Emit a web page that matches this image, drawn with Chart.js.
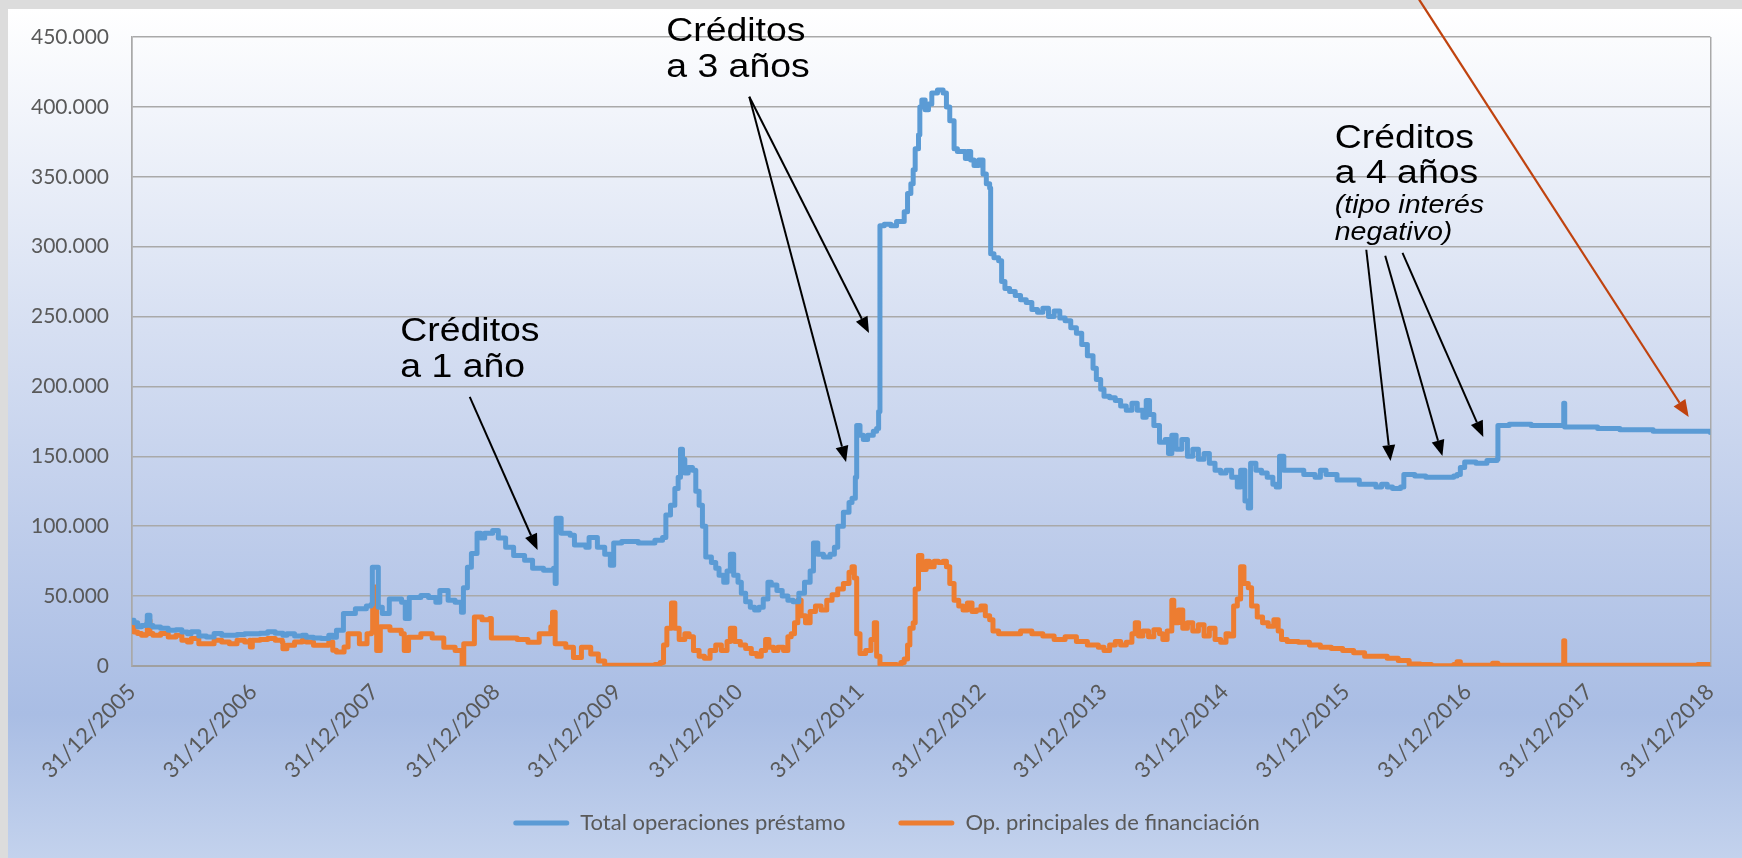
<!DOCTYPE html>
<html>
<head>
<meta charset="utf-8">
<script src="https://cdn.jsdelivr.net/npm/chart.js@4.4.1/dist/chart.umd.min.js"></script>
<style>
html,body{margin:0;padding:0;background:#dcdcdc;overflow:hidden}
#wrap{position:relative;width:1742px;height:858px}
</style>
</head>
<body>
<div id="wrap"><canvas id="c"></canvas></div>
<script>
// ---------------- DATA ----------------
const seriesNames = ["Total operaciones préstamo", "Op. principales de financiación"];

const totalDates = [
"2006-01-01","2006-01-06","2006-01-17","2006-01-29","2006-02-12","2006-02-15","2006-02-23","2006-03-04","2006-03-27","2006-04-19",
"2006-05-12","2006-05-30","2006-06-16","2006-06-27","2006-07-20","2006-08-12","2006-09-04","2006-09-27","2006-10-20","2006-11-12",
"2006-12-05","2006-12-22","2007-01-20","2007-02-12","2007-03-07","2007-03-30","2007-04-11","2007-05-04","2007-05-27","2007-06-08",
"2007-06-30","2007-07-23","2007-08-15","2007-08-27","2007-09-07","2007-09-28","2007-11-03","2007-12-06",
"2007-12-20","2007-12-24","2008-01-05","2008-01-11","2008-01-23","2008-02-13","2008-03-21","2008-04-01","2008-04-13","2008-05-18",
"2008-06-10","2008-07-02","2008-07-14","2008-08-08","2008-08-29","2008-09-17","2008-09-23","2008-10-05","2008-10-17","2008-11-03",
"2008-11-14","2008-11-26","2008-12-20","2009-01-06","2009-01-28","2009-02-21","2009-03-26","2009-04-19","2009-05-22","2009-06-21",
"2009-06-26","2009-06-29","2009-07-14","2009-08-10","2009-08-23","2009-09-26","2009-10-06","2009-10-31","2009-11-22","2009-12-09",
"2009-12-19","2010-01-12","2010-03-03","2010-04-22","2010-05-15","2010-05-25","2010-06-08","2010-06-21","2010-07-01","2010-07-08",
"2010-07-14","2010-07-21","2010-07-31","2010-08-13","2010-08-23","2010-09-02","2010-09-12","2010-09-22","2010-10-09","2010-10-22",
"2010-11-01","2010-11-15","2010-11-25","2010-12-05","2010-12-15","2010-12-28","2011-01-07","2011-01-20","2011-02-03","2011-02-16",
"2011-03-01","2011-03-14","2011-03-28","2011-04-07","2011-04-24","2011-05-10","2011-05-27","2011-06-12","2011-06-29","2011-07-16",
"2011-08-02","2011-08-12","2011-08-25","2011-09-11","2011-10-01","2011-10-14","2011-10-24","2011-11-10","2011-11-27","2011-12-06",
"2011-12-16","2011-12-20","2011-12-30","2012-01-09","2012-01-22","2012-02-08","2012-02-18","2012-02-24","2012-02-28","2012-03-12",
"2012-04-01","2012-04-18","2012-05-01","2012-05-11","2012-05-21","2012-05-31","2012-06-07","2012-06-13","2012-06-23","2012-06-27",
"2012-07-03","2012-07-13","2012-07-23","2012-08-02","2012-08-19","2012-09-05","2012-09-15","2012-09-25","2012-10-08","2012-10-18",
"2012-10-28","2012-11-11","2012-11-17","2012-11-27","2012-12-07","2012-12-21","2013-01-03","2013-01-13","2013-01-23","2013-01-26",
"2013-02-05","2013-02-19","2013-02-28","2013-03-10","2013-03-24","2013-04-10","2013-04-26","2013-05-13","2013-05-30","2013-06-16",
"2013-07-02","2013-07-19","2013-08-05","2013-08-22","2013-09-07","2013-09-24","2013-10-11","2013-10-27","2013-11-13","2013-11-30",
"2013-12-10","2013-12-23","2014-01-02","2014-01-19","2014-02-05","2014-02-21","2014-03-10","2014-03-27","2014-04-12","2014-04-29",
"2014-05-09","2014-05-19","2014-06-01","2014-06-18","2014-07-05","2014-07-15","2014-07-25","2014-08-07","2014-08-24","2014-09-10",
"2014-09-26","2014-10-13","2014-10-30","2014-11-15","2014-12-02","2014-12-19","2015-01-04","2015-01-21","2015-02-07","2015-02-17",
"2015-03-02","2015-03-12","2015-03-19","2015-04-04","2015-04-21","2015-05-08","2015-05-25","2015-06-04","2015-06-14","2015-06-27",
"2015-07-24","2015-08-26","2015-09-29","2015-10-15","2015-11-01","2015-12-04","2016-01-06","2016-02-09","2016-03-13","2016-03-30",
"2016-04-16","2016-05-03","2016-05-19","2016-06-12","2016-06-22","2016-07-25","2016-08-27","2016-09-30","2016-11-19","2016-11-29",
"2016-12-09","2016-12-22","2017-01-25","2017-02-27","2017-03-29","2017-04-01","2017-05-05","2017-07-10","2017-10-02","2017-10-15",
"2017-10-16","2017-10-18","2017-10-19","2017-11-21","2018-01-26","2018-04-03","2018-06-09","2018-07-12","2018-09-17","2018-11-06",
"2018-12-31"
];
const totalValues = [
32700,31000,28000,29000,30000,36300,29000,27900,27000,25500,
26000,24300,23000,24500,21500,20800,23200,22000,22000,22500,
23000,23000,23500,24500,23500,22000,23000,21500,22000,20500,
20000,19600,22000,20500,25500,37500,41000,43000,
44000,70700,70700,42000,37500,48000,45600,34000,49000,50500,
49000,45600,54000,47000,45600,38500,56000,70700,80500,95000,
91500,95000,97000,91500,85000,79000,75700,70000,68500,70000,
59000,105700,95000,93600,86500,85000,92000,85000,80000,72000,
88000,89000,88000,90000,92000,108000,115000,127000,135000,155000,
148000,138000,142000,140000,125000,115000,100000,78000,74000,70000,
65000,60000,68000,80000,65000,60000,52000,46000,42000,40000,
42000,48000,60000,58000,54000,50000,47000,46000,52000,60000,
68000,88000,80000,78000,80000,85000,100000,110000,117000,120000,
135000,172000,165000,162000,165000,168000,170000,182000,315000,316000,
315000,318000,318000,325000,338000,345000,355000,370000,380000,400000,
405000,398000,402000,410000,412000,410000,400000,390000,370000,368000,
368000,363000,368000,362000,358000,362000,352000,345000,342000,295000,
292000,290000,275000,270000,268000,265000,262000,260000,255000,253000,
256000,250000,254000,249000,247000,242000,238000,230000,222000,213000,
205000,198000,193000,192000,190000,186000,183000,188000,183000,178000,
190000,180000,172000,160000,162000,152000,165000,155000,162000,150000,
155000,148000,152000,145000,140000,138000,140000,135000,128000,140000,
118000,113000,145000,140000,138000,135000,130000,128000,150000,140000,
140000,137000,135000,140000,137000,133000,133000,130000,130000,128000,
130000,128000,127000,128000,137000,136000,135000,135000,136000,137000,
142000,146000,145000,147000,148000,172000,173000,172000,172000,172000,
188000,188000,171000,171000,170000,169000,169000,168000,168000,168000,
167000
];

const opDates = [
"2006-01-01","2006-01-06","2006-01-17","2006-01-29","2006-02-12","2006-02-15","2006-02-23","2006-03-04","2006-03-27","2006-04-19",
"2006-05-12","2006-05-30","2006-06-16","2006-06-27","2006-07-20","2006-08-12","2006-09-04","2006-09-27","2006-10-20","2006-11-12",
"2006-12-05","2006-12-20","2006-12-22","2006-12-28","2007-01-20","2007-02-12","2007-03-07","2007-03-28","2007-03-30","2007-04-11",
"2007-05-04","2007-05-27","2007-06-08","2007-06-30","2007-07-23","2007-08-15","2007-08-27","2007-09-07","2007-09-30",
"2007-10-12","2007-11-15","2007-12-08","2007-12-21","2007-12-25","2008-01-06","2008-01-17","2008-02-15","2008-03-20",
"2008-03-29","2008-04-11","2008-05-18","2008-06-21","2008-07-26","2008-08-29","2008-09-19","2008-09-24","2008-10-26","2008-11-18",
"2008-12-11","2008-12-16","2009-01-25","2009-03-04","2009-04-05","2009-05-09","2009-06-13","2009-06-18","2009-06-26","2009-07-28",
"2009-08-20","2009-09-13","2009-10-11","2009-11-03","2009-11-22","2010-02-14","2010-04-22","2010-05-08","2010-05-18","2010-05-28",
"2010-06-11","2010-06-21","2010-07-04","2010-07-21","2010-08-03","2010-08-16","2010-09-02","2010-09-18","2010-10-05","2010-10-22",
"2010-11-08","2010-11-25","2010-12-05","2010-12-18","2011-01-04","2011-01-20","2011-02-06","2011-02-23","2011-03-08","2011-03-21",
"2011-03-31","2011-04-14","2011-04-27","2011-05-14","2011-05-27","2011-06-06","2011-06-16","2011-06-26","2011-07-06","2011-07-19",
"2011-08-02","2011-08-18","2011-09-04","2011-09-21","2011-10-07","2011-10-24","2011-11-10","2011-11-27","2011-12-06","2011-12-13",
"2011-12-20","2011-12-30","2012-01-16","2012-02-01","2012-02-11","2012-02-18","2012-02-28","2012-03-22","2012-04-18","2012-05-01",
"2012-05-11","2012-05-21","2012-05-28","2012-06-07","2012-06-13","2012-06-23","2012-07-03","2012-07-16","2012-07-26","2012-08-09",
"2012-08-22","2012-09-05","2012-09-15","2012-09-25","2012-10-08","2012-10-22","2012-11-04","2012-11-17","2012-12-01","2012-12-14",
"2012-12-28","2013-01-10","2013-01-23","2013-02-02","2013-02-19","2013-03-24","2013-04-26","2013-05-30","2013-07-02","2013-08-05",
"2013-09-07","2013-10-11","2013-11-13","2013-12-16","2014-01-02","2014-01-19","2014-02-05","2014-02-21","2014-03-10","2014-03-27",
"2014-04-06","2014-04-16","2014-04-29","2014-05-16","2014-06-01","2014-06-18","2014-06-28","2014-07-11","2014-07-25","2014-07-31",
"2014-08-14","2014-08-27","2014-09-10","2014-09-26","2014-10-13","2014-10-30","2014-11-15","2014-12-02","2014-12-19","2015-01-04",
"2015-01-14","2015-01-27","2015-02-07","2015-02-17","2015-02-27","2015-03-12","2015-03-22","2015-04-08","2015-04-24","2015-05-11",
"2015-05-28","2015-06-10","2015-06-20","2015-07-07","2015-08-10","2015-09-12","2015-10-15","2015-11-17","2015-12-21","2016-01-23",
"2016-02-25","2016-03-30","2016-05-03","2016-06-05","2016-07-08","2016-08-11","2016-09-13","2016-11-19","2016-11-29","2016-12-09",
"2017-03-10","2017-03-16","2017-04-01","2017-10-15","2017-10-16","2017-10-18","2017-10-19","2018-09-17","2018-11-23","2018-12-31"
];
const opValues = [
28000,24300,23200,22000,23000,32700,23200,22000,23200,20800,
22000,18400,17200,19600,16000,16000,18400,17200,16000,18400,
17200,18400,13600,18400,19000,19600,18400,17000,12400,14800,
17200,18400,17200,14800,14800,17200,11200,10000,13600,
23000,16000,23000,24000,56500,11000,28000,25500,23000,
11000,20500,23000,20000,13500,11000,0,16000,35000,33000,
34000,20000,20000,19000,17000,23000,28000,38500,16000,13500,
6000,13500,8500,3500,500,500,1000,2500,15000,27000,
45000,27000,19000,23000,21000,11000,7000,5500,11000,15000,
11000,17500,27000,17500,15000,12500,9000,7000,11000,19000,
13500,11000,13500,11000,21000,23000,31000,47000,36000,31000,
39000,43000,40000,47000,51000,55000,59000,67000,71000,63000,
23000,9000,11000,19000,31000,7000,1000,1000,500,2500,
5000,15000,27000,31000,55000,79000,69000,75000,71000,75000,
74000,75000,71000,59000,47000,43000,40000,45000,39000,40000,
43000,36000,33000,25000,23000,23000,25000,23000,21500,19000,
21000,17500,15000,13500,11000,15000,17500,15000,17000,23000,
31000,21500,25000,21000,26000,23000,19000,25000,47000,31000,
40000,27000,31000,25000,29500,21500,27000,19000,17000,23000,
21500,43000,48000,71000,59000,56000,43000,35000,31000,28500,
33000,25000,19000,17500,17000,15000,13500,12500,11000,9500,
7000,7000,5500,4000,1500,1000,100,1000,3000,500,
500,2000,500,500,18000,18000,500,500,1000,500
];

const tickDates  = ["2005-12-31","2006-12-31","2007-12-31","2008-12-31","2009-12-31","2010-12-31","2011-12-31",
                    "2012-12-31","2013-12-31","2014-12-31","2015-12-31","2016-12-31","2017-12-31","2018-12-31"];
const tickLabels = ["31/12/2005","31/12/2006","31/12/2007","31/12/2008","31/12/2009","31/12/2010","31/12/2011",
                    "31/12/2012","31/12/2013","31/12/2014","31/12/2015","31/12/2016","31/12/2017","31/12/2018"];
const yTickValues = [0,50000,100000,150000,200000,250000,300000,350000,400000,450000];

const noteTexts = [
  ["Créditos", "a 1 año"],
  ["Créditos", "a 3 años"],
  ["Créditos", "a 4 años", "(tipo interés", "negativo)"]
];

// ---------------- LAYOUT / STYLE ----------------
const W = 1742, H = 858;
const BLUE = "#5b9bd5", ORANGE = "#ed7d31", GRID = "#a9a9a9", TXT = "#595959";
const NOTE_FONT = '"Liberation Sans", Arial, Helvetica, sans-serif';

// annotation placement, in data coordinates (date, value); line offsets in px
const noteLayout = [
  { at: ["2008-03-17", 232600], dy: [0, 36], italic: [false, false],
    arrows: [[["2008-10-12", 192500], ["2009-05-04", 82900]]] },
  { at: ["2010-05-26", 446900], dy: [0, 35.6], italic: [false, false],
    arrows: [[["2011-01-31", 407300], ["2012-01-26", 238200]],
             [["2011-01-31", 407300], ["2011-11-18", 145900]]] },
  { at: ["2015-11-27", 370800], dy: [0, 35.3, 65.3, 92.3], italic: [false, false, true, true],
    arrows: [[["2016-03-01", 297800], ["2016-05-13", 146600]],
             [["2016-04-27", 293500], ["2016-10-16", 150200]],
             [["2016-06-18", 295600], ["2017-02-16", 163800]]] }
];
const redArrow = [["2016-08-07", 476800], ["2018-10-27", 178100]];

// ---------------- HELPERS ----------------
function ts(s) { const [y, m, d] = s.split("-").map(Number); return Date.UTC(y, m - 1, d); }
function pts(dates, vals) { return dates.map((d, i) => ({ x: ts(d), y: vals[i] })); }
function fmtThousands(v) { return String(v).replace(/\B(?=(\d{3})+(?!\d))/g, "."); }

function drawArrow(ctx, x1, y1, x2, y2, color, lw, headLen, headHalf) {
  const a = Math.atan2(y2 - y1, x2 - x1);
  const bx = x2 - headLen * Math.cos(a), by = y2 - headLen * Math.sin(a);
  ctx.strokeStyle = color; ctx.lineWidth = lw; ctx.lineCap = "butt";
  ctx.beginPath(); ctx.moveTo(x1, y1); ctx.lineTo(bx, by); ctx.stroke();
  ctx.fillStyle = color; ctx.beginPath();
  ctx.moveTo(x2, y2);
  ctx.lineTo(bx + headHalf * Math.sin(a), by - headHalf * Math.cos(a));
  ctx.lineTo(bx - headHalf * Math.sin(a), by + headHalf * Math.cos(a));
  ctx.closePath(); ctx.fill();
}

const bgPlugin = {
  id: "bg",
  afterLayout(chart) {
    if (chart.legend) { chart.legend.left += 26; chart.legend.right += 26; }
    if (chart.scales.x) { chart.scales.x.bottom = H; }
  },
  beforeDraw(chart) {
    const ctx = chart.ctx;
    ctx.save();
    ctx.fillStyle = "#dcdcdc"; ctx.fillRect(0, 0, W, H);
    const g = ctx.createLinearGradient(0, 9, 0, H);
    g.addColorStop(0, "#ffffff");
    g.addColorStop(0.38, "#d6dff2");
    g.addColorStop(0.64, "#bccbea");
    g.addColorStop(0.83, "#a9bde4");
    g.addColorStop(1, "#c3d2ed");
    ctx.fillStyle = g; ctx.fillRect(8, 9, W - 8, H - 9);
    ctx.restore();
  }
};

const notePlugin = {
  id: "notes",
  afterDraw(chart) {
    const ctx = chart.ctx, xs = chart.scales.x, ys = chart.scales.y;
    const px = p => [xs.getPixelForValue(ts(p[0])), ys.getPixelForValue(p[1])];
    ctx.save();
    noteLayout.forEach((n, i) => {
      const [x0, y0] = px(n.at);
      noteTexts[i].forEach((t, j) => {
        ctx.save();
        ctx.translate(x0, y0 + n.dy[j]);
        ctx.scale(1.1, 1);
        ctx.font = n.italic[j] ? `italic 26px ${NOTE_FONT}` : `34px ${NOTE_FONT}`;
        ctx.fillStyle = "#000"; ctx.textBaseline = "alphabetic"; ctx.textAlign = "left";
        ctx.fillText(t, 0, 0);
        ctx.restore();
      });
      n.arrows.forEach(([a, b]) => {
        const [x1, y1] = px(a), [x2, y2] = px(b);
        drawArrow(ctx, x1, y1, x2, y2, "#000", 2, 16, 6.5);
      });
    });
    const [rx1, ry1] = px(redArrow[0]), [rx2, ry2] = px(redArrow[1]);
    drawArrow(ctx, rx1, ry1, rx2, ry2, "#c0430f", 2.2, 17, 7);
    ctx.restore();
  }
};

// ---------------- CHART ----------------
Chart.defaults.font.family = "Lato, 'Open Sans', sans-serif";
Chart.defaults.color = TXT;

const xTickValues = tickDates.map(ts);

new Chart(document.getElementById("c"), {
  type: "line",
  data: {
    datasets: [
      { label: seriesNames[0], data: pts(totalDates, totalValues), borderColor: BLUE, backgroundColor: BLUE,
        borderWidth: 5, pointRadius: 0, stepped: "before", borderJoinStyle: "round", borderCapStyle: "round" },
      { label: seriesNames[1], data: pts(opDates, opValues), borderColor: ORANGE, backgroundColor: ORANGE,
        borderWidth: 5, pointRadius: 0, stepped: "before", borderJoinStyle: "round", borderCapStyle: "round" }
    ]
  },
  options: {
    responsive: true, maintainAspectRatio: false, animation: false, devicePixelRatio: 1,
    layout: { padding: { left: 8, right: 29, top: 37, bottom: 14 } },
    plugins: {
      tooltip: { enabled: false },
      legend: {
        position: "bottom",
        labels: {
          font: { size: 22 }, color: TXT, boxWidth: 56, boxHeight: 5, padding: 53,
          useBorderRadius: true, borderRadius: 2.5,
          generateLabels(chart) {
            return Chart.defaults.plugins.legend.labels.generateLabels(chart).map(it => {
              it.lineWidth = 0; return it;
            });
          }
        }
      }
    },
    scales: {
      x: {
        type: "linear",
        min: xTickValues[0], max: xTickValues[xTickValues.length - 1],
        afterBuildTicks(s) { s.ticks = xTickValues.map(v => ({ value: v })); },
        afterFit(s) { s.height = 93; },
        ticks: {
          autoSkip: false, minRotation: 45, maxRotation: 45, padding: 13,
          font: { size: 22 }, color: TXT,
          callback(v) { const i = xTickValues.indexOf(v); return i >= 0 ? tickLabels[i] : ""; }
        },
        grid: {
          drawTicks: false, lineWidth: 1.5,
          color(c) { return (c.index === 0 || c.index === xTickValues.length - 1) ? GRID : "rgba(0,0,0,0)"; }
        },
        border: { display: true, color: "#a0a0a0", width: 2 }
      },
      y: {
        min: 0, max: 450000,
        afterBuildTicks(s) { s.ticks = yTickValues.map(v => ({ value: v })); },
        afterFit(s) { s.width = 124; },
        ticks: { padding: 23, font: { size: 21 }, color: TXT, callback: v => fmtThousands(v) },
        grid: { drawTicks: false, color: GRID, lineWidth: 1.5 },
        border: { display: true, color: GRID, width: 1.5 }
      }
    }
  },
  plugins: [bgPlugin, notePlugin]
});
</script>
</body>
</html>
